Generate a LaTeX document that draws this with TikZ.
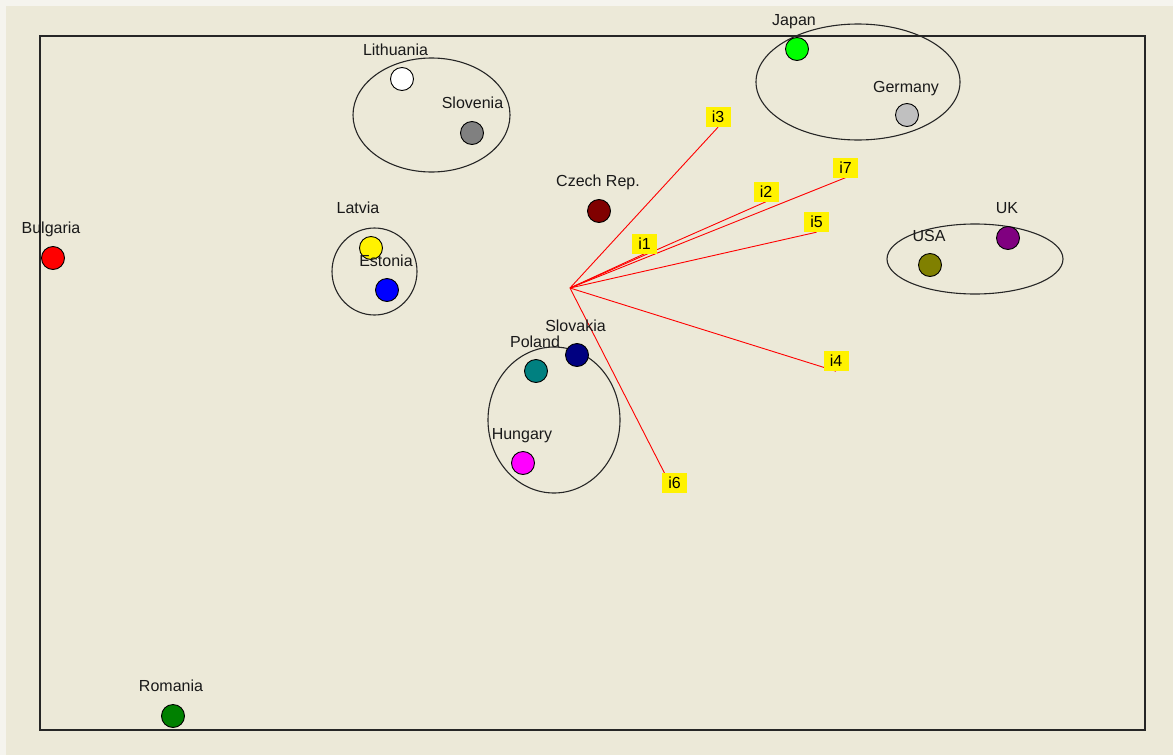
\documentclass[tikz,border=0pt]{standalone}
\usepackage{fontspec}
\setmainfont{Liberation Sans}
\usetikzlibrary{backgrounds}
\definecolor{panel}{HTML}{ECE9D8}
\definecolor{outerbg}{HTML}{F5F4EE}
\definecolor{czech}{HTML}{800000}
\definecolor{slov}{HTML}{808080}
\definecolor{germ}{HTML}{C0C0C0}
\definecolor{jap}{HTML}{00FF00}
\definecolor{ukc}{HTML}{800080}
\definecolor{usac}{HTML}{808000}
\definecolor{slovak}{HTML}{000080}
\definecolor{pol}{HTML}{008080}
\definecolor{hun}{HTML}{FF00FF}
\definecolor{rom}{HTML}{008000}
\newcommand{\labfont}{\fontsize{16}{19}\selectfont}
\begin{document}
\begin{tikzpicture}[x=1pt,y=-1pt,
  dot/.style={circle, draw=black, line width=0.9pt, minimum size=23pt, inner sep=0pt},
  lab/.style={font=\labfont, anchor=base, inner sep=0pt, text=black!90},
  ilab/.style={fill=yellow, minimum width=25pt, minimum height=20pt, inner sep=0pt, font=\labfont},
  vec/.style={draw=red, line width=0.9pt},
  grp/.style={draw=black!85, line width=1.1pt},
  frame/.style={draw=black!85, line width=1.6pt}]
\useasboundingbox (0,0) rectangle (1173,755);
\begin{scope}[on background layer]
\fill[outerbg] (0,0) rectangle (1173,755);
\fill[panel] (6,6) rectangle (1173,755);
\end{scope}
\draw[frame] (40,36) rectangle (1145,730);

% groups
\draw[grp] (431.5,115) ellipse [x radius=78.5pt, y radius=57pt];
\draw[grp] (858,82) ellipse [x radius=102pt, y radius=58pt];
\draw[grp] (374.5,271.5) ellipse [x radius=42.5pt, y radius=43.5pt];
\draw[grp] (975,259) ellipse [x radius=88pt, y radius=35pt];
\draw[grp] (554,420) ellipse [x radius=66pt, y radius=73pt];

% countries
\node[dot, fill=white] (lit) at (402,79) {};
\node[lab] (litl) at (395.5,55) {Lithuania};
\node[dot, fill=slov] (slo) at (472,133) {};
\node[lab] (slol) at (472.5,108) {Slovenia};
\node[dot, fill=czech] (cze) at (599,211) {};
\node[lab] (czel) at (598,186) {Czech Rep.};
\node[dot, fill=yellow] (lat) at (371,248) {};
\node[lab] (latl) at (358,213) {Latvia};
\node[dot, fill=blue] (est) at (387,290) {};
\node[lab] (estl) at (386,266) {Estonia};
\node[dot, fill=red] (bul) at (53,258) {};
\node[lab] (bull) at (51,233) {Bulgaria};
\node[dot, fill=jap] (jap) at (797,49) {};
\node[lab] (japl) at (794,25) {Japan};
\node[dot, fill=germ] (ger) at (907,115) {};
\node[lab] (gerl) at (906,92) {Germany};
\node[dot, fill=ukc] (uk) at (1008,238) {};
\node[lab] (ukl) at (1007,213) {UK};
\node[dot, fill=usac] (usa) at (930,265) {};
\node[lab] (usal) at (929,241) {USA};
\node[dot, fill=slovak] (svk) at (577,355) {};
\node[lab] (svkl) at (575.5,331) {Slovakia};
\node[dot, fill=pol] (pol) at (536,371) {};
\node[lab] (poll) at (535,347) {Poland};
\node[dot, fill=hun] (hun) at (523,463) {};
\node[lab] (hunl) at (522,439) {Hungary};
\node[dot, fill=rom] (rom) at (173,716) {};
\node[lab] (roml) at (171,691) {Romania};

% variable vectors
\coordinate (o) at (570,288);
\node[ilab] (i3) at (718,117) {i3};
\node[ilab] (i1) at (644.5,243.5) {i1};
\node[ilab] (i2) at (766,191.5) {i2};
\node[ilab] (i7) at (845.5,167.5) {i7};
\node[ilab] (i5) at (816.5,222) {i5};
\node[ilab] (i4) at (836,361) {i4};
\node[ilab] (i6) at (674.5,482.5) {i6};
\begin{scope}[on background layer]
\foreach \v in {i1,i2,i3,i4,i5,i6,i7}
  \draw[vec] (o) -- (\v.south);
\end{scope}
\end{tikzpicture}
\end{document}
